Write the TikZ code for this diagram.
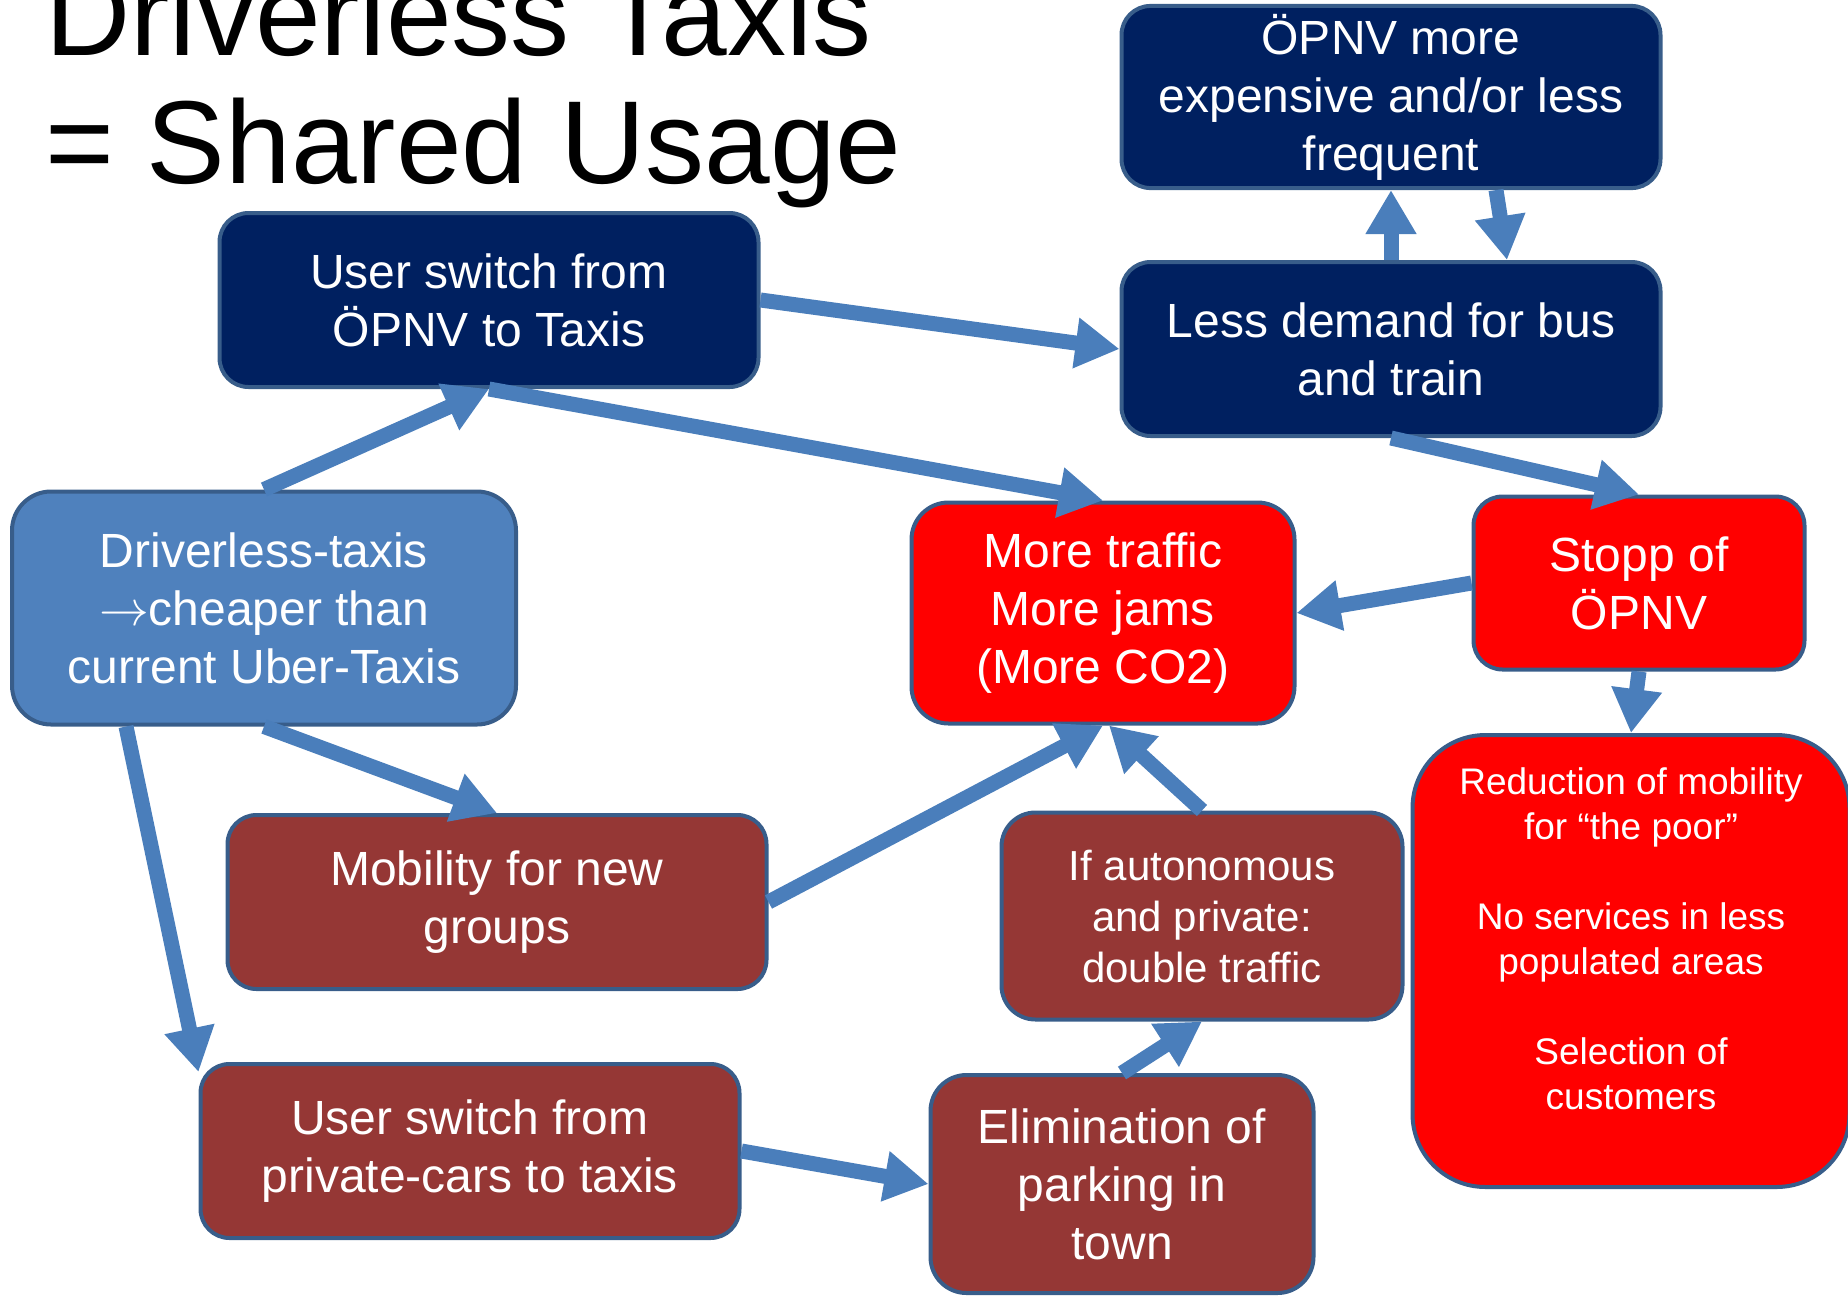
\documentclass[tikz,border=0pt]{standalone}
\usepackage{fontspec}
\setmainfont{Liberation Sans}
\usepackage{tikz}
\usetikzlibrary{arrows.meta, positioning}
\definecolor{pnavy}{HTML}{002060}
\definecolor{psky}{HTML}{4F81BD}
\definecolor{pred}{HTML}{FF0000}
\definecolor{pbrick}{HTML}{953735}
\definecolor{pedge}{HTML}{385D8A}
\definecolor{parrow}{HTML}{4A7EBB}
\tikzset{
  box/.style={rectangle, draw=pedge, line width=2pt, text=white, align=center,
              inner sep=4pt, font=\fontsize{24}{29}\selectfont},
  navy/.style={fill=pnavy},
  sky/.style={fill=psky},
  alert/.style={fill=pred},
  brick/.style={fill=pbrick},
  wide/.style={minimum width=269.5pt, minimum height=87pt, rounded corners=14.5pt},
  flow/.style={-{Triangle[length=22pt, width=24pt]}, draw=parrow, line width=7.5pt}
}

\begin{document}
\begin{tikzpicture}[x=0.5pt, y=-0.5pt]
  \useasboundingbox (0,0) rectangle (1848,1297);
  \node[anchor=base west, align=left, inner sep=0pt, font=\fontsize{59}{64}\selectfont] (title) at (45,183)
    {Driverless Taxis\\= Shared Usage};
  \node[box, navy, wide] (more) at (1391,97) {ÖPNV more\\expensive and/or less\\frequent};
  \node[box, navy, wide] (less) at (1391,349) {Less demand for bus\\and train};
  \node[box, navy, wide] (ujump) at (489,300) {User switch from\\ÖPNV to Taxis};
  \node[box, sky, minimum width=252pt, minimum height=116.5pt, rounded corners=19.5pt] (drv) at (264,608)
    {Driverless-taxis\\$\rightarrow$cheaper than\\current Uber-Taxis};
  \node[box, alert, minimum width=191.5pt, minimum height=110.5pt, rounded corners=18.5pt] (traffic) at (1103,613)
    {More traffic\\More jams\\(More CO2)};
  \node[box, alert, minimum width=165.5pt, minimum height=86.5pt, rounded corners=14.5pt] (stopp) at (1639,583)
    {Stopp of\\ÖPNV};
  \node[box, alert, minimum width=218.5pt, minimum height=226pt, rounded corners=36.5pt,
        font=\fontsize{18.5}{22.5}\selectfont] (poor) at (1631,961)
    {Reduction of mobility\\for “the poor”\\[22.5pt]No services in less\\populated areas\\[22.5pt]Selection of\\customers\\[0pt]\mbox{}};
  \node[box, brick, wide] (mob) at (497,902) {Mobility for new\\groups};
  \node[box, brick, minimum width=200.5pt, minimum height=103.5pt, rounded corners=17pt,
        font=\fontsize{21}{25.5}\selectfont] (auto) at (1202,916)
    {If autonomous\\and private:\\double traffic};
  \node[box, brick, wide] (priv) at (470,1151) {User switch from\\private-cars to taxis};
  \node[box, brick, minimum width=191.5pt, minimum height=109pt, rounded corners=18pt] (park) at (1122,1184)
    {Elimination of\\parking in\\town};
  \draw[flow] (ujump.east) -- (less.west);
  \draw[flow] (drv.north) -- (ujump.south);
  \draw[flow] (ujump.south) -- (traffic.north);
  \draw[flow] (less.north) -- (more.south);
  \draw[flow] ([xshift=52.5pt]more.south) -- ([xshift=58pt]less.north);
  \draw[flow] (less.south) -- (stopp.north);
  \draw[flow] (stopp.west) -- (traffic.east);
  \draw[flow] (stopp.south) -- (poor.north);
  \draw[flow] (drv.south) -- (mob.north);
  \draw[flow] ([xshift=-69pt]drv.south) -- ([yshift=-5pt]priv.north west);
  \draw[flow] (mob.east) -- (traffic.south);
  \draw[flow] (auto.north) -- ([xshift=3pt]traffic.south);
  \draw[flow] (priv.east) -- (park.west);
  \draw[flow] (park.north) -- (auto.south);
\end{tikzpicture}
\end{document}
